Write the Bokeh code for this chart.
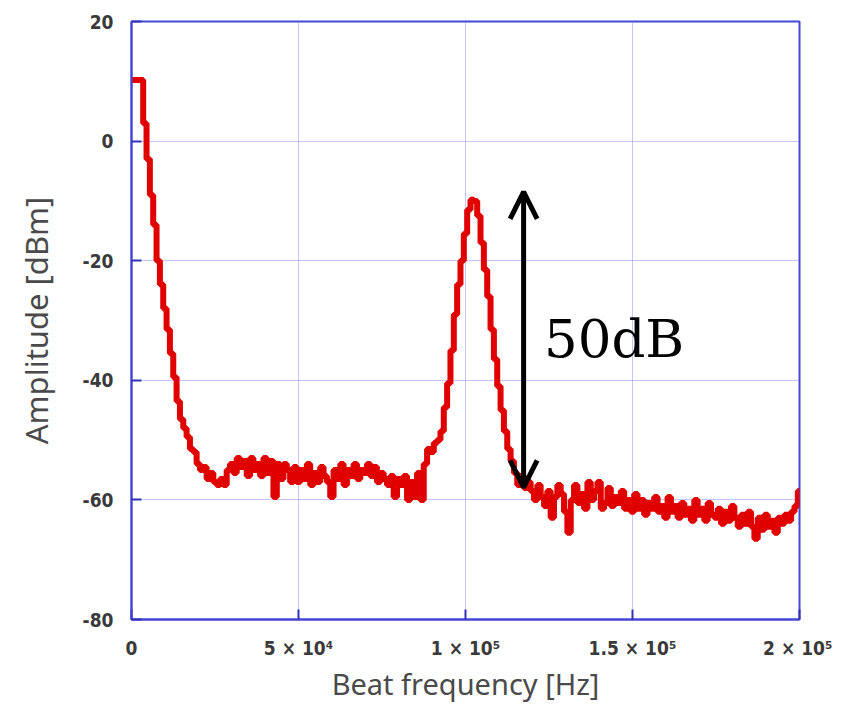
from bokeh.plotting import figure
from bokeh.models import FixedTicker, Arrow, OpenHead, Label, Range1d
from bokeh.embed import file_html
from bokeh.resources import INLINE

# ---- data (frequency in kHz, amplitude in dBm) ----
freq_khz = list(range(0, 201))
amp_dbm = [
    10.2, 10.2, 10.2, 10.2, 3.0, -3.0, -9.0, -14.0, -20.0, -24.0,
    -28.0, -31.5, -35.5, -39.5, -43.5, -46.5, -48.0, -49.5, -51.5, -52.0,
    -54.0, -55.0, -54.5, -56.5, -55.5, -57.0, -57.5, -56.5, -57.5, -55.0,
    -54.0, -55.5, -53.0, -54.5, -53.5, -56.0, -53.0, -55.0, -54.0, -56.0,
    -53.0, -55.5, -53.5, -59.5, -54.0, -56.5, -54.0, -55.0, -57.0, -54.5,
    -57.0, -55.0, -56.5, -54.0, -57.5, -55.5, -57.0, -54.5, -56.0, -57.0,
    -59.5, -55.0, -56.5, -54.0, -57.5, -55.0, -56.0, -54.0, -56.5, -55.0,
    -55.5, -54.0, -56.0, -54.5, -57.0, -55.5, -56.5, -57.5, -56.0, -59.5,
    -56.5, -57.5, -56.0, -60.0, -57.0, -59.5, -55.5, -60.0, -54.0, -51.5,
    -52.0, -50.5, -50.0, -48.5, -44.5, -40.5, -35.0, -29.0, -24.0, -20.0,
    -15.5, -11.5, -9.8, -10.0, -12.5, -17.0, -21.5, -26.0, -31.5, -36.5,
    -41.0, -45.0, -48.5, -51.5, -53.5, -55.5, -57.5, -56.0, -58.0, -57.0,
    -58.5, -60.0, -57.5, -59.5, -61.0, -58.5, -63.0, -59.5, -57.5, -59.0,
    -62.0, -65.5, -60.0, -57.5, -60.5, -59.0, -61.5, -57.0, -60.0, -58.5,
    -57.0, -61.5, -60.5, -58.0, -61.0, -59.5, -60.5, -58.5, -61.5, -60.0,
    -62.0, -59.0, -61.5, -60.0, -62.5, -60.5, -61.5, -59.5, -62.0, -61.0,
    -63.0, -59.5, -62.0, -61.0, -63.0, -60.5, -62.5, -61.5, -63.5, -60.0,
    -62.5, -61.5, -63.5, -60.5, -62.5, -63.0, -61.5, -64.0, -62.0, -63.5,
    -61.0, -63.0, -64.5, -62.5, -64.0, -62.0, -64.5, -66.5, -63.0, -65.0,
    -62.5, -64.5, -63.5, -65.5, -63.0, -64.0, -62.5, -63.5, -62.0, -61.0,
    -58.5,
]
freq_hz = [f * 1000 for f in freq_khz]

x_ticks = [0, 50000, 100000, 150000, 200000]
x_tick_labels = ["0", "5 \u00d7 10\u2074", "1 \u00d7 10\u2075", "1.5 \u00d7 10\u2075", "2 \u00d7 10\u2075"]
y_ticks = [-80, -60, -40, -20, 0, 20]
y_tick_labels = ["-80", "-60", "-40", "-20", "0", "20"]

# annotation (50 dB span between peak and noise floor)
arrow_freq = 117400
arrow_top = -8.5
arrow_bottom = -57.9
label_freq = 123500
label_db = -33.0

FRAME = "#4646d8"
GRID = "#8c8cff"
TICK_FONT = "DejaVu Sans Condensed"

p = figure(
    width=832, height=705,
    x_range=Range1d(0, 200000), y_range=Range1d(-80, 20),
    output_backend="svg", toolbar_location=None,
    min_border_left=131, min_border_right=33,
    min_border_top=21, min_border_bottom=86,
    background_fill_color="white", border_fill_color="white",
)
p.outline_line_color = FRAME
p.outline_line_width = 2

p.xaxis.ticker = FixedTicker(ticks=x_ticks)
p.yaxis.ticker = FixedTicker(ticks=y_ticks)
p.xaxis.major_label_overrides = {t: l for t, l in zip(x_ticks, x_tick_labels)}
p.yaxis.major_label_overrides = {t: l for t, l in zip(y_ticks, y_tick_labels)}

for ax in (p.xaxis, p.yaxis):
    ax.axis_line_color = FRAME
    ax.axis_line_width = 2
    ax.major_tick_in = 10
    ax.major_tick_out = 0
    ax.major_tick_line_color = "#3232b4"
    ax.major_tick_line_width = 2
    ax.minor_tick_line_color = None
    ax.major_label_text_font = TICK_FONT
    ax.major_label_text_font_style = "bold"
    ax.major_label_text_font_size = "19px"
    ax.major_label_text_color = "#3a3a3a"
    ax.axis_label_text_font = "Noto Sans"
    ax.axis_label_text_font_style = "normal"
    ax.axis_label_text_color = "#4a4a4a"

p.xaxis.axis_label_text_font_size = "29px"
p.yaxis.axis_label_text_font_size = "31px"
p.xaxis.major_label_standoff = 17
p.yaxis.major_label_standoff = 18
p.xaxis.axis_label = "Beat frequency [Hz]"
p.yaxis.axis_label = "Amplitude [dBm]"
p.xaxis.axis_label_standoff = 2
p.yaxis.axis_label_standoff = 23

p.grid.grid_line_color = GRID
p.grid.grid_line_width = 1
p.grid.grid_line_dash = "1 1"

p.step(freq_hz, amp_dbm, mode="center", line_color="#e00000", line_width=6)

p.add_layout(Arrow(
    start=OpenHead(size=27, line_width=5, line_color="black"),
    end=OpenHead(size=27, line_width=5, line_color="black"),
    x_start=arrow_freq, y_start=arrow_bottom, x_end=arrow_freq, y_end=arrow_top,
    line_width=5, line_color="black",
))
p.add_layout(Label(
    x=label_freq, y=label_db, text="50dB",
    text_font="DejaVu Serif", text_font_size="53px",
    text_color="black", text_baseline="alphabetic",
))

open("out.html", "w").write(file_html(p, INLINE))
